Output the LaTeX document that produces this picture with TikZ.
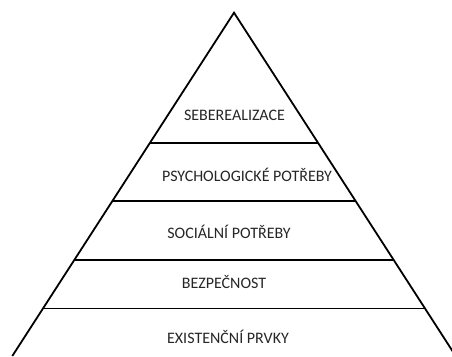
\documentclass[tikz,border=0pt]{standalone}
\usepackage{fontspec}
\setmainfont{Carlito}
\usetikzlibrary{calc}
\definecolor{ink}{HTML}{262626}
\tikzset{pyr/.style={line join=miter,line width=1.8pt},
  lvl/.style={font=\fontsize{16}{19}\selectfont,text=ink,inner sep=0pt,anchor=base}}

\begin{document}
\begin{tikzpicture}[x=1pt,y=-1pt]
  \useasboundingbox(0,0)rectangle(452,356);\clip(0,0)rectangle(452,356);
  \coordinate(top)at(234,12.7);\coordinate(bl)at(12.3,356);\coordinate(br)at(455.7,356);
  \draw[pyr](bl)--(top)--(br);
  \foreach\t in{0.3796,0.5485,0.7204,0.8616}
   \draw[pyr]($(top)!\t!(bl)$)--($(top)!\t!(br)$);
  \node[lvl](seb)at(234.5,120){SEBEREALIZACE};
  \node[lvl](psy)at(247,181){PSYCHOLOGICKÉ POTŘEBY};
  \node[lvl](soc)at(229,238){SOCIÁLNÍ POTŘEBY};
  \node[lvl](bez)at(224,288){BEZPEČNOST};
  \node[lvl](exi)at(228,343){EXISTENČNÍ PRVKY};
\end{tikzpicture}
\end{document}
